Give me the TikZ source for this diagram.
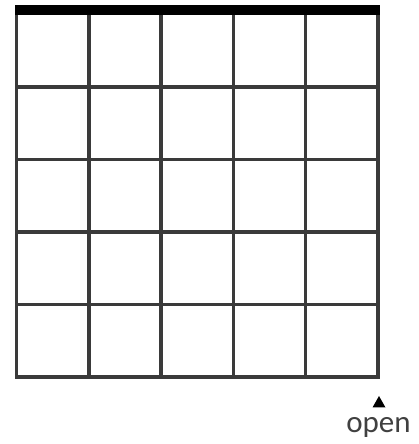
\documentclass[tikz,border=0pt]{standalone}
\usepackage{fontspec}
\setmainfont{Carlito}
\definecolor{gridc}{HTML}{3A3A3A}
\definecolor{txtc}{HTML}{404040}
\begin{document}
\begin{tikzpicture}[x=1pt,y=1pt,
  gridline/.style={draw=gridc,line width=3.5pt},
  nutbar/.style={fill=black},
  marker/.style={fill=black},
  lbl/.style={text=txtc,font=\fontsize{31}{34}\selectfont,inner sep=0pt,anchor=base}]
\useasboundingbox (0,0) rectangle (419,444);
% grid: x from 16.5 to 378, y (top px) 14.5 to 377
\foreach \i in {0,...,5}{
  \pgfmathsetmacro{\xx}{16.5+\i*72.3}
  \draw[gridline] (\xx,444-12) -- (\xx,444-377);
}
\foreach \j in {1,...,5}{
  \pgfmathsetmacro{\yy}{444-14.5-\j*72.5}
  \draw[gridline,line cap=rect] (16.5,\yy) -- (378,\yy);
}
\fill[nutbar] (14.5,444-5) rectangle (380,444-15);
\coordinate (tip) at (379,444-396);
\fill[marker] (tip) -- (372.5,444-407.5) -- (385.5,444-407.5) -- cycle;
\node[lbl] (open) at (378.5,444-433) {open};
\end{tikzpicture}
\end{document}
